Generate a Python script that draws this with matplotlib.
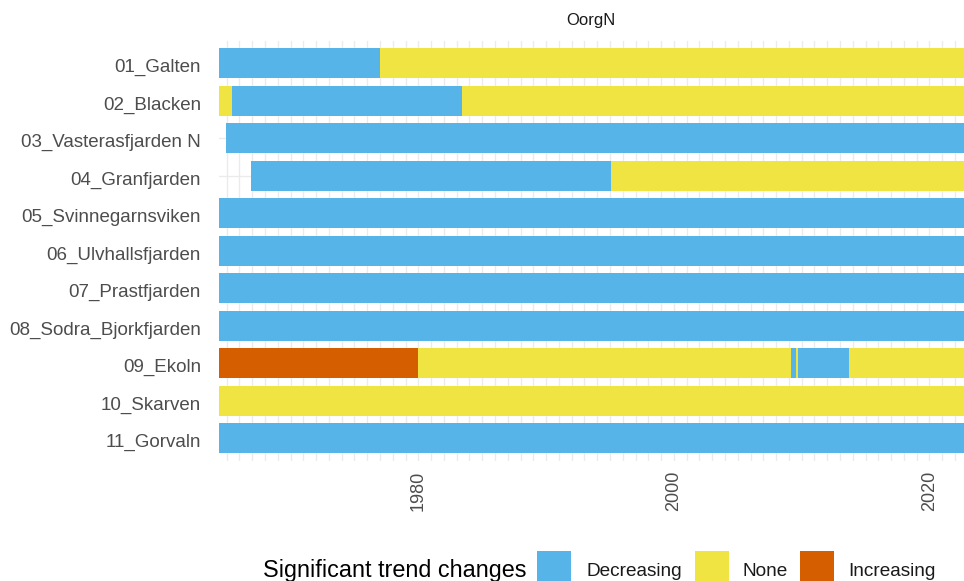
import matplotlib
matplotlib.use("Agg")
import matplotlib.pyplot as plt
import matplotlib.transforms as mtransforms
from matplotlib.patches import Rectangle
import numpy as np

plt.rcParams['font.family'] = ['Liberation Sans', 'DejaVu Sans']

stations = ["01_Galten", "02_Blacken", "03_Vasterasfjarden N", "04_Granfjarden",
            "05_Svinnegarnsviken", "06_Ulvhallsfjarden", "07_Prastfjarden",
            "08_Sodra_Bjorkfjarden", "09_Ekoln", "10_Skarven", "11_Gorvaln"]

# segments of the trend per station (start year, end year, trend class)
seg_station = ["01_Galten", "01_Galten",
               "02_Blacken", "02_Blacken", "02_Blacken",
               "03_Vasterasfjarden N",
               "04_Granfjarden", "04_Granfjarden",
               "05_Svinnegarnsviken", "06_Ulvhallsfjarden", "07_Prastfjarden",
               "08_Sodra_Bjorkfjarden",
               "09_Ekoln", "09_Ekoln", "09_Ekoln", "09_Ekoln", "09_Ekoln", "09_Ekoln",
               "10_Skarven", "11_Gorvaln"]
seg_start = [1964.4, 1977.0,
             1964.4, 1965.4, 1983.4,
             1964.95,
             1966.9, 1995.1,
             1964.4, 1964.4, 1964.4,
             1964.4,
             1964.4, 1980.0, 2009.2, 2009.55, 2009.7, 2013.7,
             1964.4, 1964.4]
seg_end = [1977.0, 2022.7,
           1965.4, 1983.4, 2022.7,
           2022.7,
           1995.1, 2022.7,
           2022.7, 2022.7, 2022.7,
           2022.7,
           1980.0, 2009.2, 2009.55, 2009.7, 2013.7, 2022.7,
           2022.7, 2022.7]
seg_trend = ["Decreasing", "None",
             "None", "Decreasing", "None",
             "Decreasing",
             "Decreasing", "None",
             "Decreasing", "Decreasing", "Decreasing",
             "Decreasing",
             "Increasing", "None", "Decreasing", "None", "Decreasing", "None",
             "None", "Decreasing"]

trend_levels = ["Decreasing", "None", "Increasing"]
trend_colors = {"Decreasing": "#56B4E9", "None": "#F0E442", "Increasing": "#D55E00"}

x_min, x_max = 1964.4, 2022.7
W, H = 964, 581

fig = plt.figure(figsize=(W / 100, H / 100), dpi=100)
ax = fig.add_axes([219 / W, 1 - 460.8 / H, (W - 219) / W, (460.8 - 40.8) / H])

ypos = {s: i for i, s in enumerate(stations)}
for st, a, b, tr in zip(seg_station, seg_start, seg_end, seg_trend):
    ax.barh(ypos[st], b - a, left=a, height=0.79, color=trend_colors[tr],
            edgecolor="none", zorder=3)

ax.set_xlim(x_min, x_max)
ax.set_ylim(len(stations) - 0.4, -0.6)
ax.set_yticks(range(len(stations)))
ax.set_yticklabels(stations)
ax.set_xticks([1980, 2000, 2020])
ax.set_xticks(np.arange(1965, 2023), minor=True)
ax.tick_params(axis="x", which="major", labelrotation=90, length=0, pad=7,
               labelsize=13, labelcolor="#4D4D4D")
ax.tick_params(axis="x", which="minor", length=0)
ax.tick_params(axis="y", length=0, pad=13, labelsize=13.5, labelcolor="#4D4D4D")
# nudge the station names a little down, as in the original
shift = mtransforms.ScaledTranslation(0, -2.5 / 100, fig.dpi_scale_trans)
for lbl in ax.get_yticklabels():
    lbl.set_transform(lbl.get_transform() + shift)
ax.grid(which="both", axis="x", color="#EBEBEB", linewidth=1.0, zorder=0)
ax.grid(which="major", axis="y", color="#EBEBEB", linewidth=1.0, zorder=0)
for sp in ax.spines.values():
    sp.set_visible(False)
ax.set_axisbelow(True)

fig.text(591 / W, 1 - 21 / H, "OorgN", ha="center", va="center", fontsize=12, color="#1A1A1A")

# legend at the bottom, laid out like ggplot's horizontal legend
leg_y = 1 - 571 / H
fig.text(263 / W, leg_y, "Significant trend changes", ha="left", va="center",
         fontsize=16.8, color="black")
key_x = [537, 695, 800]
text_x = [586, 743, 848]
for t, kx, tx in zip(trend_levels, key_x, text_x):
    fig.add_artist(Rectangle((kx / W, 1 - 585 / H), 34 / W, 34 / H,
                             transform=fig.transFigure, facecolor=trend_colors[t],
                             edgecolor="none"))
    fig.text(tx / W, leg_y, t, ha="left", va="center", fontsize=13.7, color="#1A1A1A")

fig.savefig("out.png", dpi=100)
